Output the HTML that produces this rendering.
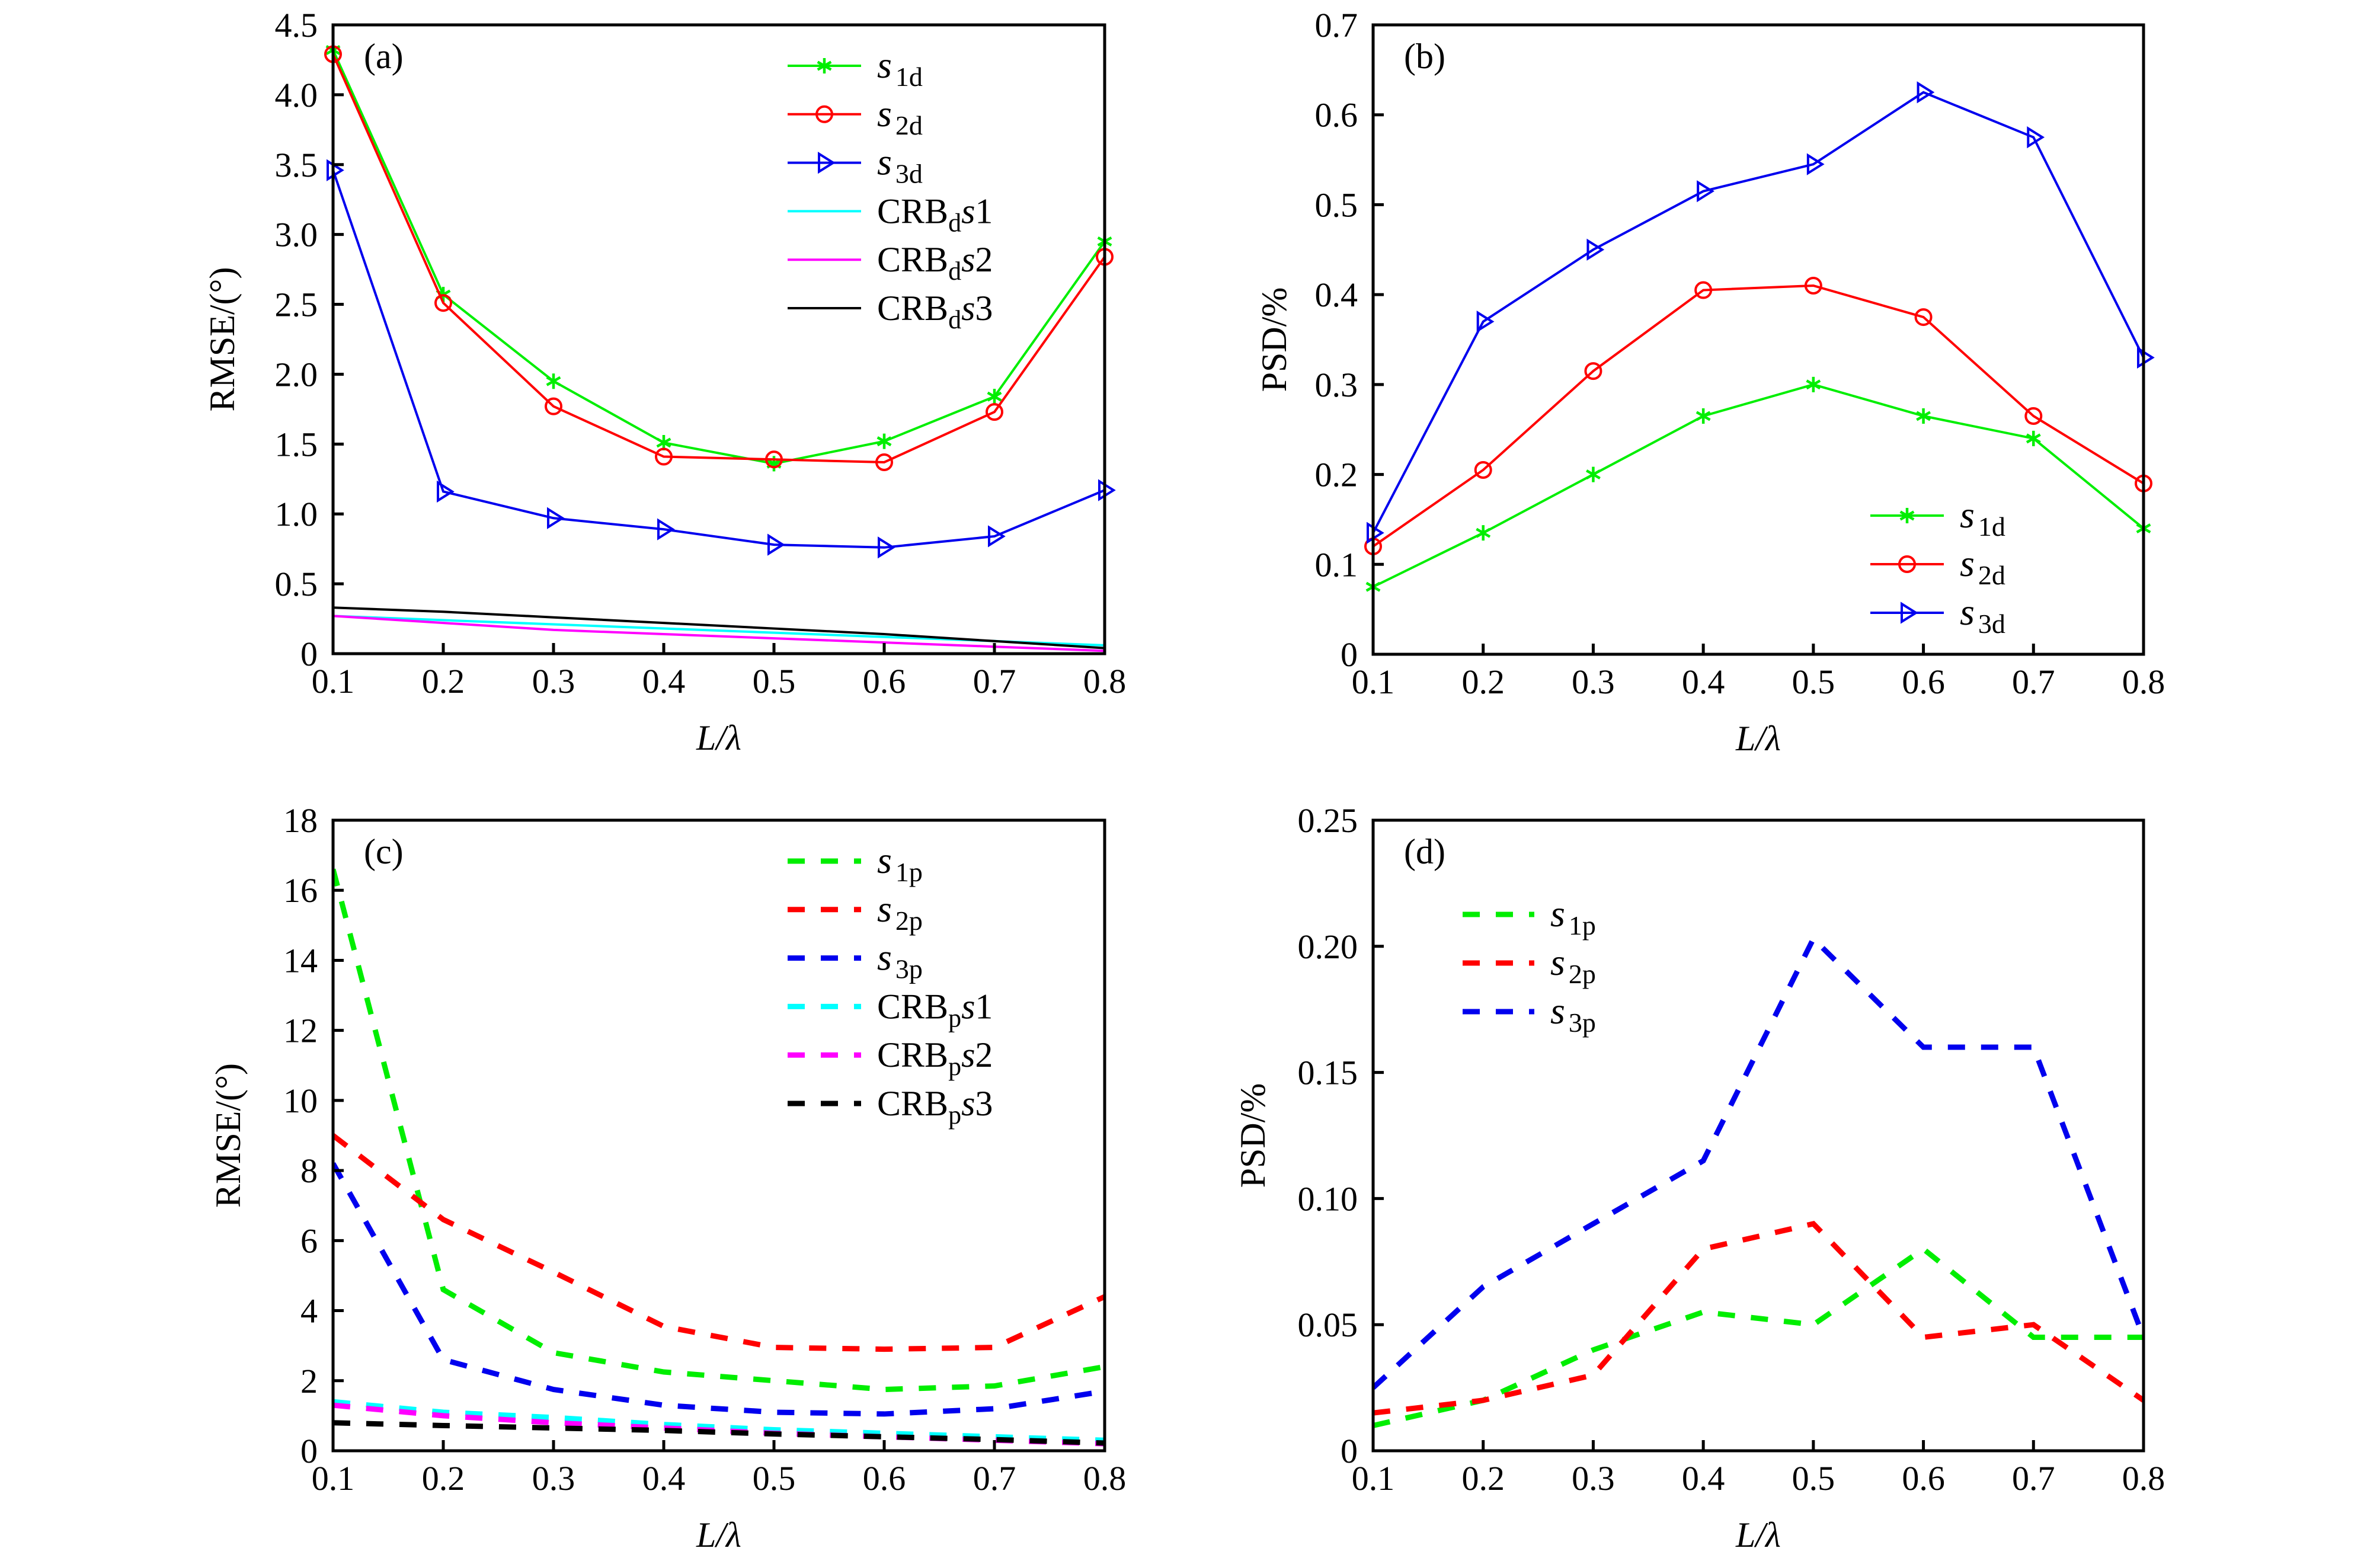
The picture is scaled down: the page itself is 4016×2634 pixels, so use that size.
<!DOCTYPE html>
<html><head><meta charset="utf-8"><style>
html,body{margin:0;padding:0;background:#fff;}
svg{display:block;font-family:"Liberation Serif","DejaVu Serif",serif;}
</style></head><body>
<svg id="fig" width="4016" height="2634" viewBox="0 0 4016 2634" xmlns="http://www.w3.org/2000/svg"></svg>
<script>
const xCats=[0.1,0.2,0.3,0.4,0.5,0.6,0.7,0.8];
const xTickLabels=["0.1","0.2","0.3","0.4","0.5","0.6","0.7","0.8"];
// panel a
const aS1d=[4.32,2.57,1.95,1.51,1.36,1.52,1.84,2.95];
const aS2d=[4.29,2.51,1.77,1.41,1.39,1.37,1.73,2.84];
const aS3d=[3.46,1.16,0.97,0.89,0.78,0.76,0.84,1.17];
const aCrb1=[0.27,0.24,0.21,0.18,0.15,0.12,0.09,0.06];
const aCrb2=[0.27,0.22,0.17,0.14,0.11,0.08,0.05,0.02];
const aCrb3=[0.33,0.30,0.26,0.22,0.18,0.14,0.09,0.04];
const aTicks=[0,0.5,1,1.5,2,2.5,3,3.5,4,4.5];
const aTickLabels=["0","0.5","1.0","1.5","2.0","2.5","3.0","3.5","4.0","4.5"];
// panel b
const bS1d=[0.075,0.135,0.2,0.265,0.3,0.265,0.24,0.14];
const bS2d=[0.12,0.205,0.315,0.405,0.41,0.375,0.265,0.19];
const bS3d=[0.135,0.37,0.45,0.515,0.545,0.625,0.575,0.33];
const bTicks=[0,0.1,0.2,0.3,0.4,0.5,0.6,0.7];
const bTickLabels=["0","0.1","0.2","0.3","0.4","0.5","0.6","0.7"];
// panel c
const cS1p=[16.6,4.6,2.8,2.25,2.0,1.75,1.85,2.4];
const cS2p=[9.0,6.6,5.1,3.55,2.95,2.9,2.95,4.4];
const cS3p=[8.2,2.6,1.75,1.3,1.1,1.05,1.2,1.7];
const cCrb1=[1.4,1.1,0.95,0.75,0.6,0.5,0.4,0.3];
const cCrb2=[1.3,1.0,0.8,0.65,0.5,0.4,0.3,0.2];
const cCrb3=[0.8,0.72,0.65,0.58,0.48,0.4,0.32,0.22];
const cTicks=[0,2,4,6,8,10,12,14,16,18];
const cTickLabels=["0","2","4","6","8","10","12","14","16","18"];
// panel d
const dS1p=[0.01,0.02,0.04,0.055,0.05,0.08,0.045,0.045];
const dS2p=[0.015,0.02,0.03,0.08,0.09,0.045,0.05,0.02];
const dS3p=[0.025,0.065,0.09,0.115,0.203,0.16,0.16,0.045];
const dTicks=[0,0.05,0.1,0.15,0.2,0.25];
const dTickLabels=["0","0.05","0.10","0.15","0.20","0.25"];

const NS="http://www.w3.org/2000/svg";
const svg=document.getElementById('fig');
function el(tag,attrs,parent){const e=document.createElementNS(NS,tag);for(const k in attrs)e.setAttribute(k,attrs[k]);(parent||svg).appendChild(e);return e;}

function panel(cfg){
  const g=el('g',{});
  
  
  const {L,R,T,B,ymax}=cfg;
  const xs=v=>L+(v-0.1)/0.7*(R-L);
  const ys=v=>B-v/ymax*(B-T);
  const fs=58;
  const cid='clip'+cfg.id;
  const cp=el('clipPath',{id:cid},g);el('rect',{x:L,y:T-20,width:R-L+20,height:B-T+20},cp);
  cfg.series.forEach(s=>{
    const pts=s.data.map((v,i)=>xs(xCats[i])+','+ys(v)).join(' ');
    const pl=el('polyline',{points:pts,fill:'none',stroke:s.color,'stroke-width':s.dash?9:4,'stroke-dasharray':s.dash?'29 27':'none','clip-path':'url(#'+cid+')'},g);
    
    
    if(s.marker){s.data.forEach((v,i)=>{const m=marker(g,s.marker,xs(xCats[i]),ys(v),s.color);});}
  });
  const fr=el('rect',{x:L,y:T,width:R-L,height:B-T,fill:'none',stroke:'#000','stroke-width':5},g);
  
  xCats.forEach((v,i)=>{
    const x=xs(v);
    el('line',{x1:x,y1:B,x2:x,y2:B-18,stroke:'#000','stroke-width':5},g);
    const t=el('text',{x:x,y:B+66,'font-size':fs,'text-anchor':'middle'},g);t.textContent=xTickLabels[i];
    
  });
  cfg.ticks.forEach((v,i)=>{
    const y=ys(v);
    el('line',{x1:L,y1:y,x2:L+18,y2:y,stroke:'#000','stroke-width':5},g);
    const t=el('text',{x:L-26,y:y+20,'font-size':fs,'text-anchor':'end'},g);t.textContent=cfg.tickLabels[i];
    
  });
  const xt=el('text',{x:(L+R)/2,y:B+162,'font-size':60,'text-anchor':'middle','font-style':'italic'},g);
  xt.textContent='L/λ';
  
  const yt=el('text',{x:0,y:0,'font-size':60,'text-anchor':'middle',transform:'translate('+cfg.ytX+','+(T+B)/2+') rotate(-90)'},g);
  yt.textContent=cfg.ytitle;
  
  const pl=el('text',{x:L+52,y:T+73,'font-size':60},g);pl.textContent='('+cfg.id+')';
  
  const lg=el('g',{},g);
  cfg.series.forEach((s,i)=>{
    const y=cfg.leg.y0+i*cfg.leg.dy;
    const e=el('g',{},lg);
    el('line',{x1:cfg.leg.x1,y1:y,x2:cfg.leg.x2,y2:y,stroke:s.color,'stroke-width':s.dash?9:4,'stroke-dasharray':s.dash?'29 27':'none'},e);
    if(s.marker)marker(e,s.marker,(cfg.leg.x1+cfg.leg.x2)/2,y,s.color);
    const t=el('text',{x:cfg.leg.tx,y:y+20,'font-size':60},e);t.innerHTML=s.label;
  });
}
function marker(g,type,x,y,c){
  if(type==='o')return el('circle',{cx:x,cy:y,r:13,fill:'none',stroke:c,'stroke-width':4},g);
  if(type==='>')return el('polygon',{points:(x-9)+','+(y-15)+' '+(x+15)+','+y+' '+(x-9)+','+(y+15),fill:'none',stroke:c,'stroke-width':4},g);
  const r=13,h=r*0.87;
  return el('path',{d:`M${x} ${y-r}L${x} ${y+r}M${x-h} ${y-r/2}L${x+h} ${y+r/2}M${x-h} ${y+r/2}L${x+h} ${y-r/2}`,stroke:c,'stroke-width':4.5},g);
}
const sub=(b,s)=>`<tspan font-style="italic" font-size="64">${b}</tspan><tspan font-size="46" dy="14" dx="6">${s}</tspan>`;
const crb=(s,n)=>`CRB<tspan font-size="44" dy="14">${s}</tspan><tspan dy="-14" font-style="italic">s</tspan>${n}`;
panel({id:'a',name:'panel-a-rmse-d',L:562,R:1864,T:42,B:1103,ymax:4.5,ticks:aTicks,tickLabels:aTickLabels,ytitle:'RMSE/(°)',ytX:395,
  leg:{x1:1329,x2:1453,tx:1480,y0:111,dy:81.8},
  series:[{key:'s1d',data:aS1d,color:'#00ee00',marker:'*',label:sub('s','1d')},
    {key:'s2d',data:aS2d,color:'#ff0000',marker:'o',label:sub('s','2d')},
    {key:'s3d',data:aS3d,color:'#0000ee',marker:'>',label:sub('s','3d')},
    {key:'crb-d-s1',data:aCrb1,color:'#00ffff',label:crb('d',1)},
    {key:'crb-d-s2',data:aCrb2,color:'#ff00ff',label:crb('d',2)},
    {key:'crb-d-s3',data:aCrb3,color:'#000000',label:crb('d',3)}]});
panel({id:'b',name:'panel-b-psd-d',L:2317,R:3617,T:42,B:1104,ymax:0.7,ticks:bTicks,tickLabels:bTickLabels,ytitle:'PSD/%',ytX:2170,
  leg:{x1:3156,x2:3280,tx:3307,y0:870,dy:82},
  series:[{key:'s1d',data:bS1d,color:'#00ee00',marker:'*',label:sub('s','1d')},
    {key:'s2d',data:bS2d,color:'#ff0000',marker:'o',label:sub('s','2d')},
    {key:'s3d',data:bS3d,color:'#0000ee',marker:'>',label:sub('s','3d')}]});
panel({id:'c',name:'panel-c-rmse-p',L:562,R:1864,T:1384,B:2448,ymax:18,ticks:cTicks,tickLabels:cTickLabels,ytitle:'RMSE/(°)',ytX:405,
  leg:{x1:1329,x2:1453,tx:1480,y0:1453,dy:81.8},
  series:[{key:'s1p',data:cS1p,color:'#00ee00',dash:1,label:sub('s','1p')},
    {key:'s2p',data:cS2p,color:'#ff0000',dash:1,label:sub('s','2p')},
    {key:'s3p',data:cS3p,color:'#0000ee',dash:1,label:sub('s','3p')},
    {key:'crb-p-s1',data:cCrb1,color:'#00ffff',dash:1,label:crb('p',1)},
    {key:'crb-p-s2',data:cCrb2,color:'#ff00ff',dash:1,label:crb('p',2)},
    {key:'crb-p-s3',data:cCrb3,color:'#000000',dash:1,label:crb('p',3)}]});
panel({id:'d',name:'panel-d-psd-p',L:2317,R:3617,T:1384,B:2448,ymax:0.25,ticks:dTicks,tickLabels:dTickLabels,ytitle:'PSD/%',ytX:2134,
  leg:{x1:2468,x2:2589,tx:2616,y0:1543,dy:82},
  series:[{key:'s1p',data:dS1p,color:'#00ee00',dash:1,label:sub('s','1p')},
    {key:'s2p',data:dS2p,color:'#ff0000',dash:1,label:sub('s','2p')},
    {key:'s3p',data:dS3p,color:'#0000ee',dash:1,label:sub('s','3p')}]});
</script>
</body></html>
